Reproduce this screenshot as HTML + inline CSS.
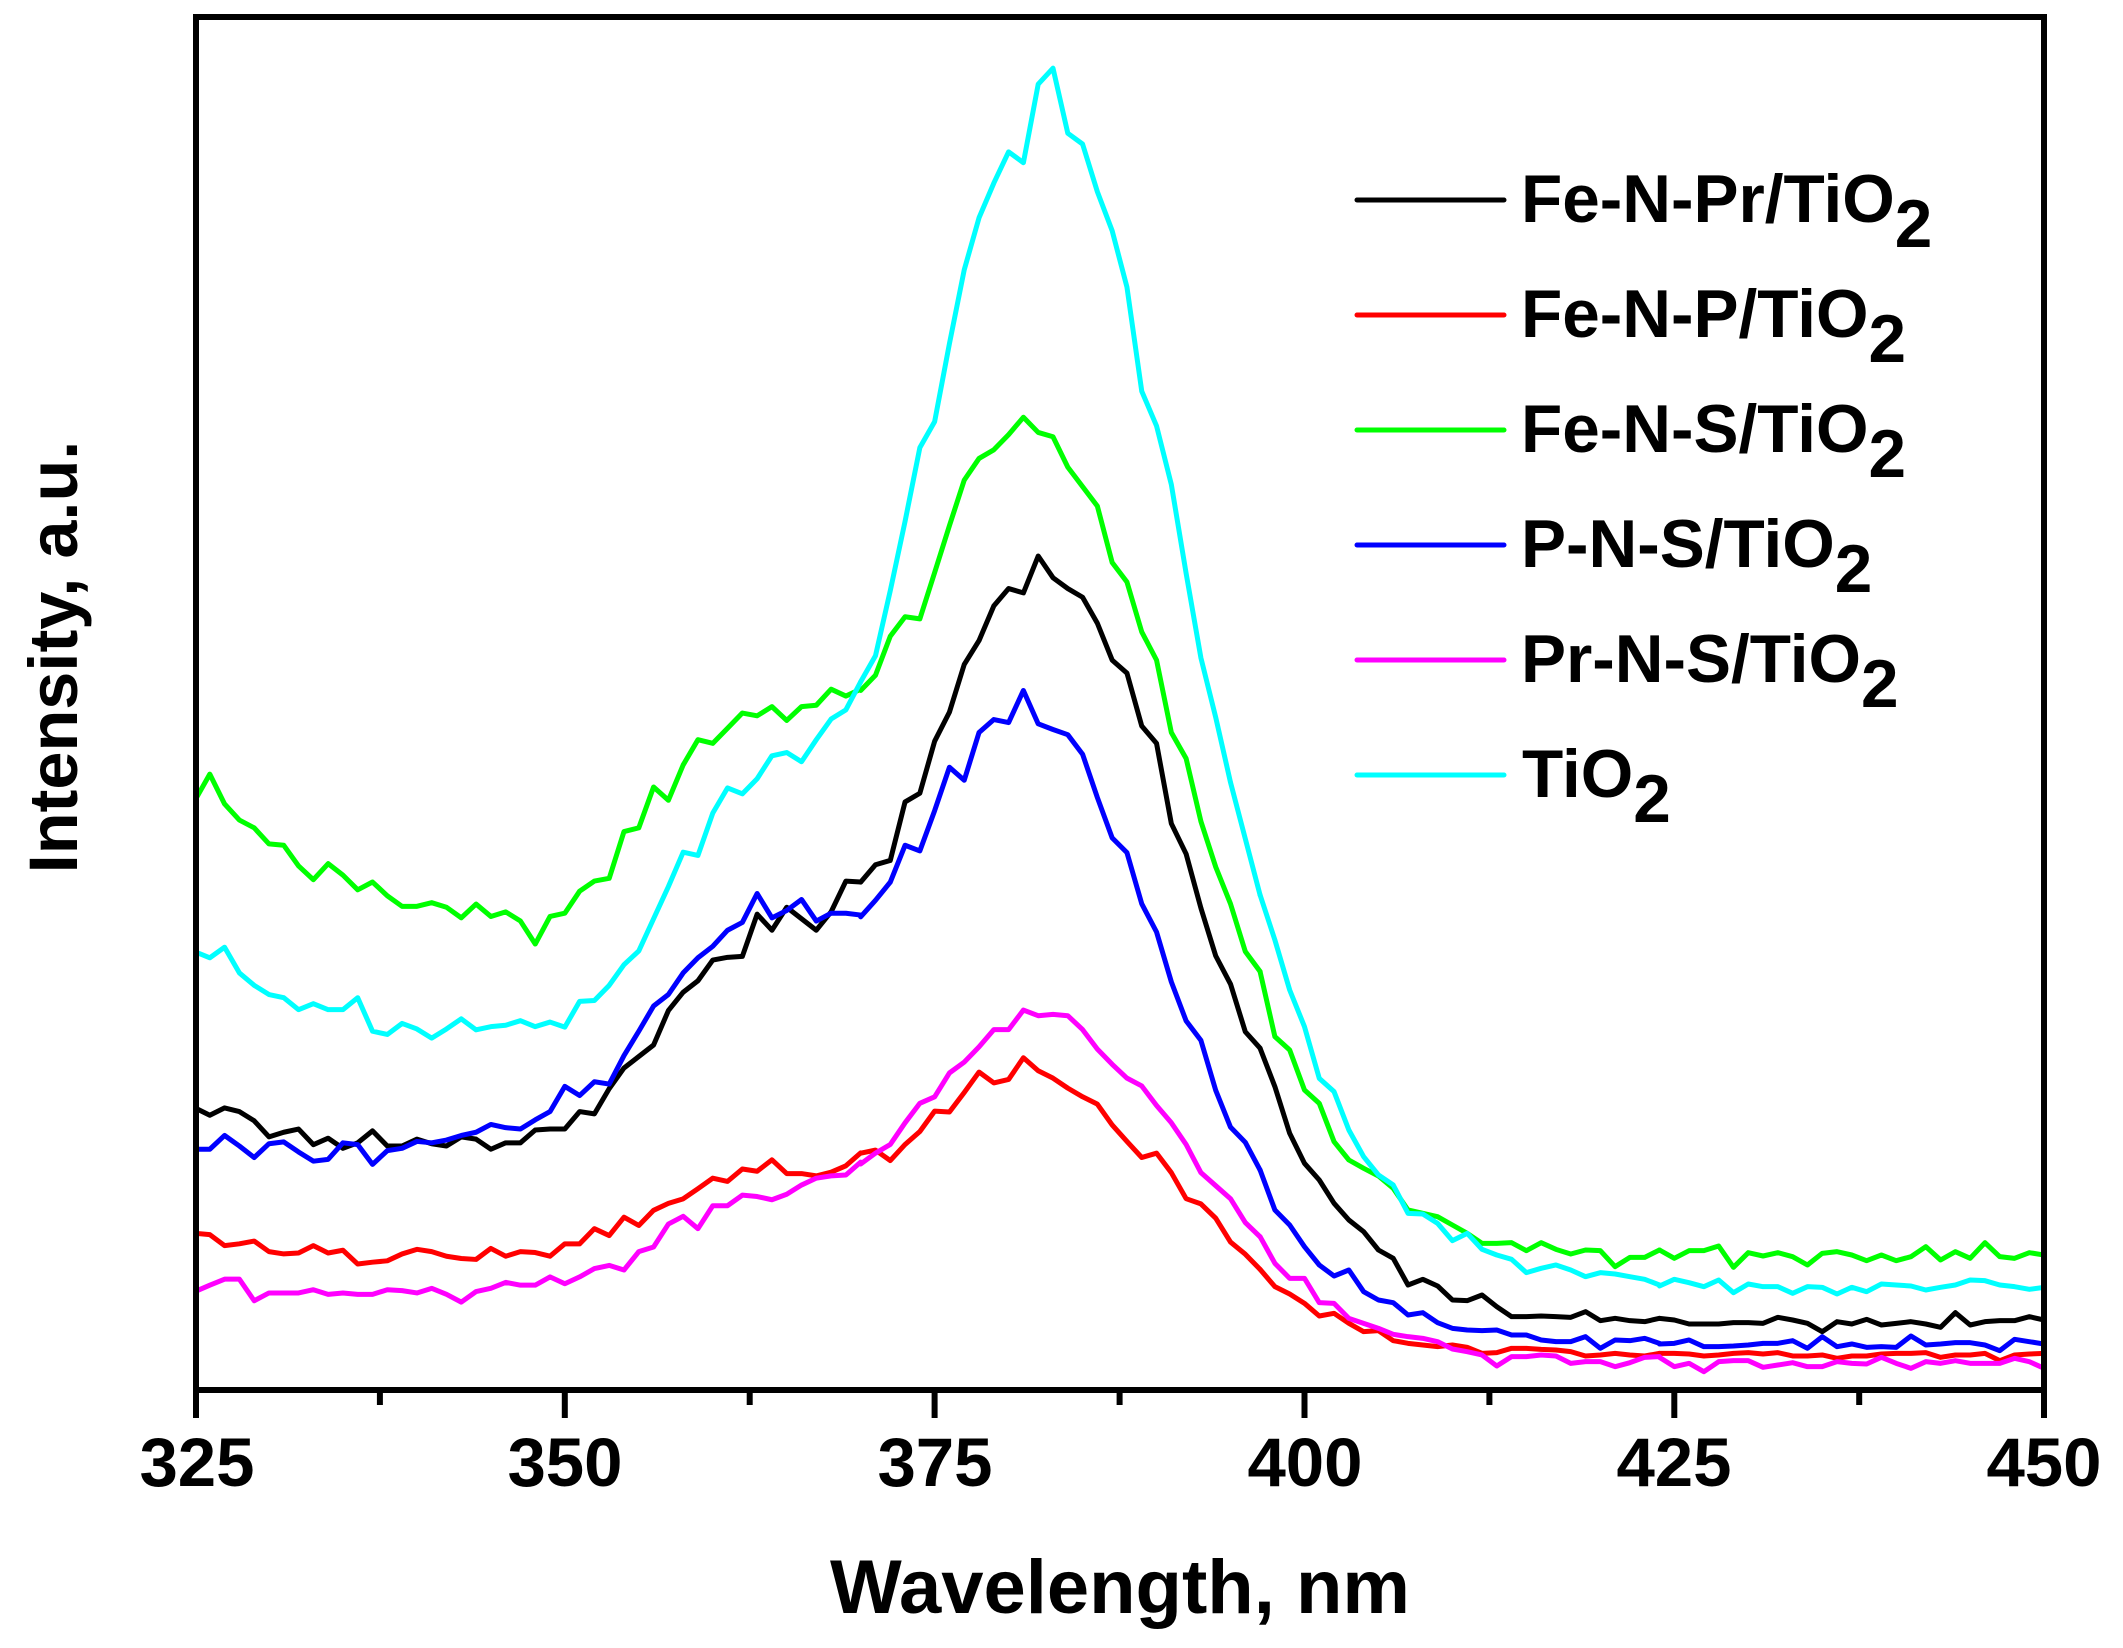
<!DOCTYPE html>
<html>
<head>
<meta charset="utf-8">
<style>
  html,body{margin:0;padding:0;background:#fff;}
  svg{display:block;}
  polyline{fill:none;stroke-width:5;stroke-linejoin:round;stroke-linecap:round;vector-effect:non-scaling-stroke;}
  text{font-family:"Liberation Sans",Arial,sans-serif;font-weight:bold;fill:#000;}
</style>
</head>
<body>
<svg width="2123" height="1648" viewBox="0 0 2123 1648" xmlns="http://www.w3.org/2000/svg">
<rect x="0" y="0" width="2123" height="1648" fill="#fff"/>
<defs>
  <clipPath id="plot"><rect x="196" y="17" width="1848" height="1373"/></clipPath>
</defs>

<g clip-path="url(#plot)">
<!-- Black: Fe-N-Pr/TiO2 -->
<g stroke="#000000">
<polyline transform="matrix(14.793 0 0 0.45914 195 680)" points="0,932 1,948 2,932 3,940 4,960 5,995 6,985 7,978 8,1012 9,998 10,1020 11,1008 12,982 13,1015 14,1015 15,1000 16,1010 17,1015 18,995 19,1000 20,1022 21,1008 22,1008 23,980 24,978 25,978 26,940 27,945 28,890 29,845 30,820 31,795 32,720 33,680 34,655 35,610 36,604 37,602 38,510 39,545 40,495 41,520 42,545 43,505 44,438 45,440"/>
<polyline transform="matrix(14.793 0 0 0.43365 195 700)" points="45,420 46,380 47,370 48,235 49,215 50,95 51,28 52,-82 53,-137 54,-217 55,-257 56,-247 57,-332 58,-282 59,-257 60,-237 61,-177 62,-92 63,-62 64,60 65,100 66,285 67,355 68,480 69,590 70,655 71,765 72,803"/>
<polyline transform="matrix(14.793 0 0 0.33333 195 870)" points="72,535 73,650 74,790 75,880 76,930 77,1000 78,1050 79,1085 80,1140 81,1165 82,1245 83,1228 84,1248 85,1290 86,1292 87,1275 88,1310 89,1340 90,1340 91,1338 92,1340 93,1342 94,1325 95,1352 96,1345 97,1352 98,1355 99,1345"/>
<polyline transform="matrix(14.793 0 0 0.33333 195 1190)" points="99,385 100,390 101,402 102,402 103,402 104,398 105,398 106,400 107,382 108,390 109,400 110,425 111,395 112,402 113,388 114,405 115,400 116,395 117,402 118,412 119,368 120,405 121,395 122,392 123,392 124,380 125,390"/>
</g>

<!-- Red: Fe-N-P/TiO2 -->
<g stroke="#ff0000">
<polyline transform="matrix(14.793 0 0 0.45914 195 680)" points="0,1205 1,1208 2,1232 3,1228 4,1222 5,1245 6,1250 7,1248 8,1232 9,1248 10,1242 11,1272 12,1268 13,1265 14,1250 15,1240 16,1245 17,1255 18,1260 19,1262 20,1238 21,1255 22,1245 23,1247 24,1255 25,1228 26,1228 27,1195 28,1210 29,1170 30,1188 31,1155 32,1140 33,1130 34,1108 35,1085 36,1092 37,1065 38,1070 39,1045 40,1075 41,1075 42,1080 43,1072 44,1058 45,1030"/>
<polyline transform="matrix(14.793 0 0 0.43365 195 700)" points="45,1045 46,1038 47,1062 48,1025 49,995 50,948 51,950 52,905 53,858 54,883 55,875 56,825 57,855 58,872 59,895 60,915 61,932 62,980 63,1018 64,1055 65,1045 66,1090 67,1150 68,1162 69,1195 70,1250 71,1278 72,1313"/>
<polyline transform="matrix(14.793 0 0 0.33333 195 870)" points="72,1198 73,1250 74,1272 75,1300 76,1338 77,1330 78,1360 79,1385 80,1382 81,1412 82,1420 83,1425 84,1430 85,1425 86,1432 87,1450 88,1448 89,1435 90,1435 91,1438 92,1440 93,1445 94,1458 95,1455 96,1450 97,1455 98,1458 99,1450"/>
<polyline transform="matrix(14.793 0 0 0.33333 195 1190)" points="99,490 100,490 101,492 102,498 103,495 104,490 105,488 106,492 107,488 108,498 109,498 110,495 111,505 112,498 113,498 114,492 115,490 116,490 117,488 118,502 119,495 120,495 121,490 122,512 123,495 124,492 125,490"/>
</g>

<!-- Green: Fe-N-S/TiO2 -->
<g stroke="#00ff00">
<polyline transform="matrix(14.793 0 0 0.45914 195 680)" points="0,262 1,205 2,270 3,305 4,322 5,357 6,360 7,405 8,435 9,400 10,425 11,457 12,440 13,470 14,493 15,493 16,485 17,495 18,518 19,488 20,515 21,505 22,525 23,575 24,515 25,508 26,460 27,438 28,432 29,330 30,322 31,233 32,262 33,185 34,130 35,138 36,105 37,72 38,78 39,58 40,88 41,58 42,55 43,20 44,35 45,20"/>
<polyline transform="matrix(14.793 0 0 0.43365 195 700)" points="45,-22 46,-57 47,-147 48,-192 49,-187 50,-294 51,-402 52,-507 53,-557 54,-577 55,-612 56,-652 57,-617 58,-607 59,-537 60,-492 61,-447 62,-317 63,-272 64,-157 65,-92 66,75 67,135 68,280 69,385 70,470 71,580 72,626"/>
<polyline transform="matrix(14.793 0 0 0.33333 195 870)" points="72,305 73,500 74,540 75,660 76,700 77,815 78,870 79,895 80,918 81,955 82,1020 83,1030 84,1040 85,1065 86,1090 87,1120 88,1120 89,1118 90,1142 91,1118 92,1138 93,1152 94,1140 95,1142 96,1190 97,1162 98,1162 99,1140"/>
<polyline transform="matrix(14.793 0 0 0.33333 195 1190)" points="99,180 100,205 101,182 102,182 103,168 104,232 105,188 106,198 107,188 108,200 109,225 110,190 111,185 112,195 113,212 114,195 115,212 116,200 117,170 118,210 119,185 120,205 121,158 122,200 123,205 124,188 125,195"/>
</g>

<!-- Blue: P-N-S/TiO2 -->
<g stroke="#0000ff">
<polyline transform="matrix(14.793 0 0 0.45914 195 680)" points="0,1022 1,1022 2,992 3,1015 4,1040 5,1010 6,1006 7,1028 8,1048 9,1044 10,1008 11,1012 12,1055 13,1025 14,1020 15,1005 16,1008 17,1002 18,992 19,985 20,968 21,975 22,978 23,958 24,940 25,885 26,905 27,875 28,880 29,818 30,765 31,710 32,685 33,638 34,605 35,580 36,545 37,528 38,465 39,518 40,502 41,478 42,525 43,508 44,508 45,512"/>
<polyline transform="matrix(14.793 0 0 0.43365 195 700)" points="45,500 46,462 47,420 48,335 49,348 50,255 51,155 52,185 53,75 54,45 55,52 56,-22 57,55 58,68 59,80 60,125 61,225 62,318 63,352 64,470 65,535 66,650 67,740 68,785 69,900 70,985 71,1020 72,1084"/>
<polyline transform="matrix(14.793 0 0 0.33333 195 870)" points="72,900 73,1020 74,1065 75,1130 76,1185 77,1218 78,1200 79,1265 80,1290 81,1298 82,1335 83,1328 84,1358 85,1375 86,1380 87,1382 88,1380 89,1395 90,1395 91,1410 92,1415 93,1415 94,1400 95,1435 96,1410 97,1412 98,1405 99,1420"/>
<polyline transform="matrix(14.793 0 0 0.33333 195 1190)" points="99,462 100,460 101,450 102,470 103,470 104,468 105,465 106,460 107,460 108,452 109,475 110,440 111,470 112,462 113,472 114,470 115,472 116,438 117,465 118,462 119,458 120,458 121,465 122,482 123,448 124,455 125,462"/>
</g>

<!-- Magenta: Pr-N-S/TiO2 -->
<g stroke="#ff00ff">
<polyline transform="matrix(14.793 0 0 0.45914 195 680)" points="0,1332 1,1318 2,1305 3,1305 4,1352 5,1335 6,1335 7,1335 8,1328 9,1338 10,1335 11,1338 12,1338 13,1328 14,1330 15,1335 16,1325 17,1338 18,1355 19,1332 20,1325 21,1312 22,1318 23,1318 24,1300 25,1315 26,1300 27,1282 28,1275 29,1285 30,1245 31,1235 32,1185 33,1168 34,1195 35,1145 36,1145 37,1122 38,1125 39,1132 40,1120 41,1100 42,1085 43,1080 44,1078 45,1050"/>
<polyline transform="matrix(14.793 0 0 0.43365 195 700)" points="45,1070 46,1045 47,1025 48,975 49,930 50,915 51,860 52,835 53,800 54,760 55,760 56,715 57,728 58,725 59,728 60,760 61,805 62,840 63,872 64,890 65,935 66,975 67,1025 68,1090 69,1120 70,1150 71,1205 72,1238"/>
<polyline transform="matrix(14.793 0 0 0.33333 195 870)" points="72,1100 73,1180 74,1225 75,1225 76,1298 77,1300 78,1345 79,1360 80,1375 81,1393 82,1400 83,1405 84,1415 85,1437 86,1445 87,1455 88,1488 89,1460 90,1460 91,1455 92,1458 93,1480 94,1475 95,1475 96,1490 97,1478 98,1462 99,1460"/>
<polyline transform="matrix(14.793 0 0 0.33333 195 1190)" points="99,502 100,530 101,520 102,545 103,515 104,512 105,512 106,532 107,525 108,518 109,530 110,530 111,515 112,520 113,522 114,502 115,520 116,535 117,515 118,520 119,512 120,520 121,520 122,520 123,505 124,515 125,535"/>
</g>

<!-- Cyan: TiO2 -->
<g stroke="#00ffff">
<polyline transform="matrix(14.793 0 0 0.45914 195 680)" points="0,592 1,605 2,582 3,638 4,665 5,685 6,692 7,718 8,705 9,718 10,718 11,692 12,765 13,772 14,748 15,760 16,780 17,760 18,738 19,762 20,755 21,752 22,742 23,755 24,745 25,756 26,700 27,698 28,665 29,620 30,590 31,520 32,450 33,375 34,382 35,290 36,235 37,248 38,215 39,165 40,158 41,178 42,130 43,85 44,65 45,4"/>
<polyline transform="matrix(14.793 0 0 0.43365 195 700)" points="45,-42 46,-102 47,-252 48,-412 49,-582 50,-642 51,-822 52,-992 53,-1112 54,-1192 55,-1264 56,-1239 57,-1420 58,-1457 59,-1307 60,-1282 61,-1172 62,-1082 63,-952 64,-712 65,-632 66,-497 67,-292 68,-97 69,40 70,190 71,320 72,450"/>
<polyline transform="matrix(14.793 0 0 0.33333 195 870)" points="72,75 73,210 74,360 75,470 76,625 77,665 78,780 79,860 80,915 81,945 82,1030 83,1032 84,1060 85,1112 86,1090 87,1138 88,1155 89,1168 90,1208 91,1195 92,1185 93,1200 94,1220 95,1208 96,1212 97,1220 98,1228 99,1245"/>
<polyline transform="matrix(14.793 0 0 0.33333 195 1190)" points="99,288 100,268 101,278 102,290 103,270 104,308 105,282 106,290 107,290 108,310 109,290 110,292 111,312 112,292 113,305 114,282 115,285 116,288 117,300 118,292 119,285 120,270 121,272 122,285 123,290 124,298 125,292"/>
</g>
</g>

<!-- Frame -->
<rect x="196" y="17" width="1848" height="1373" fill="none" stroke="#000" stroke-width="6"/>

<!-- Major ticks -->
<g stroke="#000" stroke-width="6">
  <line x1="196" y1="1390" x2="196" y2="1418"/>
  <line x1="564.8" y1="1390" x2="564.8" y2="1418"/>
  <line x1="934.6" y1="1390" x2="934.6" y2="1418"/>
  <line x1="1304.5" y1="1390" x2="1304.5" y2="1418"/>
  <line x1="1674.3" y1="1390" x2="1674.3" y2="1418"/>
  <line x1="2044" y1="1390" x2="2044" y2="1418"/>
  <!-- Minor ticks -->
  <line x1="379.9" y1="1390" x2="379.9" y2="1405"/>
  <line x1="749.7" y1="1390" x2="749.7" y2="1405"/>
  <line x1="1119.6" y1="1390" x2="1119.6" y2="1405"/>
  <line x1="1489.4" y1="1390" x2="1489.4" y2="1405"/>
  <line x1="1859.2" y1="1390" x2="1859.2" y2="1405"/>
</g>

<!-- Tick labels -->
<g font-size="69" text-anchor="middle">
  <text x="197" y="1486">325</text>
  <text x="565" y="1486">350</text>
  <text x="935" y="1486">375</text>
  <text x="1305" y="1486">400</text>
  <text x="1674" y="1486">425</text>
  <text x="2044" y="1486">450</text>
</g>

<!-- Axis titles -->
<text x="1120" y="1613" font-size="76" text-anchor="middle">Wavelength, nm</text>
<text transform="translate(77,657) rotate(-90)" font-size="68.5" text-anchor="middle">Intensity, a.u.</text>

<!-- Legend -->
<g stroke-width="5" stroke-linecap="round">
  <line x1="1357" y1="200" x2="1504" y2="200" stroke="#000000"/>
  <line x1="1357" y1="315" x2="1504" y2="315" stroke="#ff0000"/>
  <line x1="1357" y1="430" x2="1504" y2="430" stroke="#00ff00"/>
  <line x1="1357" y1="545" x2="1504" y2="545" stroke="#0000ff"/>
  <line x1="1357" y1="660" x2="1504" y2="660" stroke="#ff00ff"/>
  <line x1="1357" y1="775" x2="1504" y2="775" stroke="#00ffff"/>
</g>
<g font-size="67.5">
  <text x="1521" y="222">Fe-N-Pr/TiO<tspan dy="25">2</tspan></text>
  <text x="1521" y="337">Fe-N-P/TiO<tspan dy="25">2</tspan></text>
  <text x="1521" y="452">Fe-N-S/TiO<tspan dy="25">2</tspan></text>
  <text x="1521" y="567">P-N-S/TiO<tspan dy="25">2</tspan></text>
  <text x="1521" y="682">Pr-N-S/TiO<tspan dy="25">2</tspan></text>
  <text x="1522" y="797">TiO<tspan dy="25">2</tspan></text>
</g>
</svg>
</body>
</html>
